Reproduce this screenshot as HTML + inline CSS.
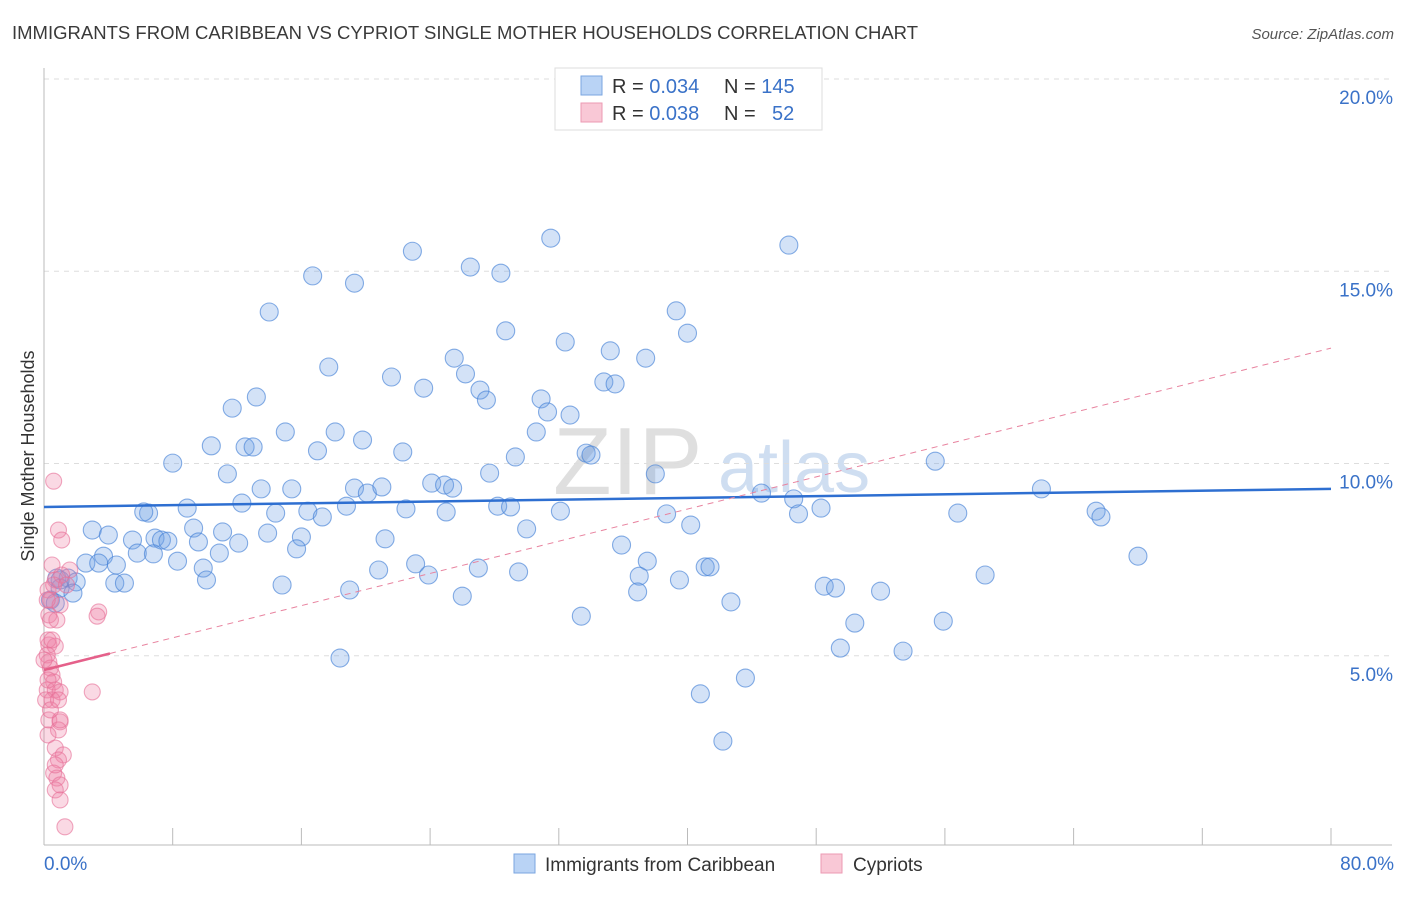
<!DOCTYPE html>
<html><head><meta charset="utf-8"><style>
body{margin:0;background:#fff;font-family:"Liberation Sans",sans-serif}
svg text{font-family:"Liberation Sans",sans-serif}
</style></head><body>
<svg id="chart" width="1406" height="892" viewBox="0 0 1406 892" xmlns="http://www.w3.org/2000/svg">
<text x="12" y="39" font-size="18.5" fill="#3a3a3a" textLength="906">IMMIGRANTS FROM CARIBBEAN VS CYPRIOT SINGLE MOTHER HOUSEHOLDS CORRELATION CHART</text>
<text x="1394" y="39" font-size="15" fill="#555" text-anchor="end" font-style="italic">Source: ZipAtlas.com</text>
<g>
<text x="553" y="494" font-size="96" fill="#d8d8d8" font-family="Liberation Serif,serif" opacity="0.8">ZIP</text>
<text x="718" y="492" font-size="72" fill="#c4d6ee" opacity="0.8">atlas</text>
</g>
<g id="grid"></g>
<g id="axes"></g>
<g id="pts"></g>
<g id="trend"></g>
<text transform="translate(34,456) rotate(-90)" font-size="18" fill="#333" text-anchor="middle">Single Mother Households</text>
<g>
<rect x="555" y="68" width="267" height="62" fill="#fff" stroke="#ddd"/>
<rect x="581" y="76" width="21" height="19" fill="#b9d3f5" stroke="#7aa6e0"/>
<rect x="581" y="103" width="21" height="19" fill="#f9c8d6" stroke="#ec9ab3"/>
<text x="612" y="93" font-size="20" fill="#333">R = <tspan fill="#3a72c8">0.034</tspan><tspan x="724">N = </tspan><tspan fill="#3a72c8">145</tspan></text>
<text x="612" y="120" font-size="20" fill="#333">R = <tspan fill="#3a72c8">0.038</tspan><tspan x="724">N = </tspan><tspan x="772" fill="#3a72c8">52</tspan></text>
</g>
<g>
<rect x="514" y="854" width="21" height="19" fill="#b9d3f5" stroke="#7aa6e0"/>
<text x="545" y="871" font-size="19" fill="#333">Immigrants from Caribbean</text>
<rect x="821" y="854" width="21" height="19" fill="#f9c8d6" stroke="#ec9ab3"/>
<text x="853" y="871" font-size="19" fill="#333">Cypriots</text>
</g>
</svg>
<script>
const yTicks=[5,10,15,20];
const yTickLabels=["5.0%","10.0%","15.0%","20.0%"];
const xTickLabels=["0.0%","80.0%"];
const blueX=[31.5,22.9,46.3,26.5,28.4,16.7,19.3,14.0,39.3,28.7,40.0,32.4,35.2,25.5,37.4,17.7,26.2,21.6,34.8,35.5,23.6,27.1,13.2,27.5,30.9,11.7,31.3,32.7,10.4,12.5,13.0,15.0,18.1,30.6,19.8,17.0,22.3,33.7,34.0,29.3,8.0,55.4,11.4,27.7,38.0,24.1,24.9,25.4,13.5,15.4,19.3,20.1,21.0,12.3,8.9,18.8,6.5,6.2,16.4,14.4,25.0,28.2,29.0,22.5,32.1,17.3,38.7,44.6,46.6,46.9,48.3,56.8,62.0,65.4,65.7,68.0,3.0,9.3,4.0,11.1,13.9,6.9,7.3,7.7,5.5,9.6,12.1,16.0,21.2,30.0,40.2,3.7,5.8,6.8,10.9,15.7,35.9,2.6,3.4,8.3,9.9,20.8,23.1,27.0,29.5,37.5,41.1,41.4,23.9,37.0,58.5,0.8,1.5,2.0,4.4,5.0,10.1,14.8,39.5,48.5,49.2,1.0,1.8,0.4,0.7,19.0,26.0,36.9,52.0,42.7,33.4,50.4,55.9,49.5,53.4,18.4,40.8,43.6,42.2,4.5,1.0];
const blueY=[15.86,15.52,15.68,15.11,14.95,14.88,14.69,13.94,13.97,13.45,13.39,13.16,12.93,12.74,12.74,12.51,12.33,12.25,12.12,12.07,11.96,11.91,11.73,11.65,11.68,11.44,11.34,11.26,10.46,10.43,10.43,10.82,10.82,10.82,10.61,10.33,10.30,10.27,10.22,10.17,10.01,10.06,9.73,9.75,9.73,9.49,9.44,9.36,9.34,9.34,9.36,9.23,9.39,8.97,8.84,8.89,8.71,8.74,8.76,8.71,8.74,8.89,8.87,8.82,8.76,8.61,8.69,9.23,9.08,8.69,8.84,8.71,9.34,8.76,8.61,7.59,8.27,8.32,8.14,8.22,8.19,8.06,8.01,7.98,8.01,7.96,7.93,8.09,8.04,8.30,8.40,7.59,7.67,7.65,7.67,7.78,7.88,7.41,7.41,7.46,7.28,7.23,7.39,7.28,7.18,7.46,7.31,7.31,7.10,7.07,7.10,7.02,7.02,6.92,6.89,6.89,6.97,6.84,6.97,6.81,6.76,6.76,6.63,6.45,6.37,6.71,6.55,6.66,6.68,6.40,6.03,5.85,5.90,5.20,5.12,4.94,4.01,4.42,2.78,7.36,6.97];
const pinkX=[0.6,0.9,1.1,0.5,1.6,0.7,0.25,0.4,1.0,3.4,3.3,0.3,0.8,0.3,0.7,0.2,0.3,0.4,0.5,0.6,0.2,0.7,1.0,3.0,0.5,0.3,1.0,0.9,0.25,0.7,1.2,0.9,0.6,0.8,1.0,0.7,1.0,1.3,0.2,0.1,0.0,0.25,0.4,1.1,0.6,1.4,0.4,0.5,0.9,0.7,1.0,0.25];
const pinkY=[9.54,8.27,8.01,7.36,7.23,6.97,6.71,6.45,6.32,6.14,6.03,6.06,5.93,5.28,5.25,5.02,4.84,4.68,4.50,4.32,4.11,4.11,4.06,4.06,3.85,3.33,3.28,3.07,2.94,2.60,2.42,2.29,1.95,1.82,1.64,1.51,1.25,0.55,6.45,3.85,4.89,5.41,3.59,7.10,6.84,6.84,5.93,5.41,3.85,2.16,3.33,4.37];
const blueTrend=[8.87,9.34];
const pinkTrend=[4.63,13.0];
const pinkSolidEnd=4.1;

const X0=44,X1=1331,Y0=848,PPY=38.45;
const sx=v=>X0+(v/80)*(X1-X0);
const sy=v=>Y0-v*PPY;
const NS="http://www.w3.org/2000/svg";
function mk(tag,attrs,parent){const e=document.createElementNS(NS,tag);for(const k in attrs)e.setAttribute(k,attrs[k]);parent.appendChild(e);return e;}
const grid=document.getElementById('grid'),axes=document.getElementById('axes'),pts=document.getElementById('pts'),trend=document.getElementById('trend');
yTicks.forEach((t,i)=>{
  const l=mk('line',{x1:X0,x2:1392,y1:sy(t),y2:sy(t),stroke:'#ddd','stroke-dasharray':'5,5'},grid);
  
  
  const tx=mk('text',{x:1393,y:sy(t)+25,'font-size':19,fill:'#3a72c8','text-anchor':'end'},grid);
  tx.textContent=yTickLabels[i];
  
  
});
const yl=mk('line',{x1:X0,x2:X0,y1:68,y2:845,stroke:'#bbb'},axes);


const xl=mk('line',{x1:X0,x2:1392,y1:845,y2:845,stroke:'#bbb'},axes);


for(let i=0;i<=10;i++){
  const t=mk('line',{x1:sx(i*8),x2:sx(i*8),y1:828,y2:845,stroke:'#bbb'},axes);
  
  
}
[[0,'start',44],[80,'end',1394]].forEach((d,i)=>{
  const tx=mk('text',{x:d[2],y:870,'font-size':19,fill:'#3a72c8','text-anchor':d[1]},axes);
  tx.textContent=xTickLabels[i];
  
  
});
blueX.forEach((v,i)=>{
  const c=mk('circle',{cx:sx(v),cy:sy(blueY[i]),r:9,fill:'rgba(110,160,230,0.3)',stroke:'rgba(70,130,215,0.65)','stroke-width':1.1},pts);
  
  
});
pinkX.forEach((v,i)=>{
  const c=mk('circle',{cx:sx(v),cy:sy(pinkY[i]),r:8,fill:'rgba(240,130,165,0.3)',stroke:'rgba(230,110,150,0.6)','stroke-width':1.1},pts);
  
  
});
const py=x=>pinkTrend[0]+(pinkTrend[1]-pinkTrend[0])*x/80;
const bt=mk('line',{x1:sx(0),y1:sy(blueTrend[0]),x2:sx(80),y2:sy(blueTrend[1]),stroke:'#2e6fd1','stroke-width':2.5},trend);


const pd=mk('line',{x1:sx(pinkSolidEnd),y1:sy(py(pinkSolidEnd)),x2:sx(80),y2:sy(py(80)),stroke:'#e8839f','stroke-width':1,'stroke-dasharray':'6,5'},trend);


const ps=mk('line',{x1:sx(0),y1:sy(py(0)),x2:sx(pinkSolidEnd),y2:sy(py(pinkSolidEnd)),stroke:'#e5608a','stroke-width':2.5},trend);


</script>
</body></html>
